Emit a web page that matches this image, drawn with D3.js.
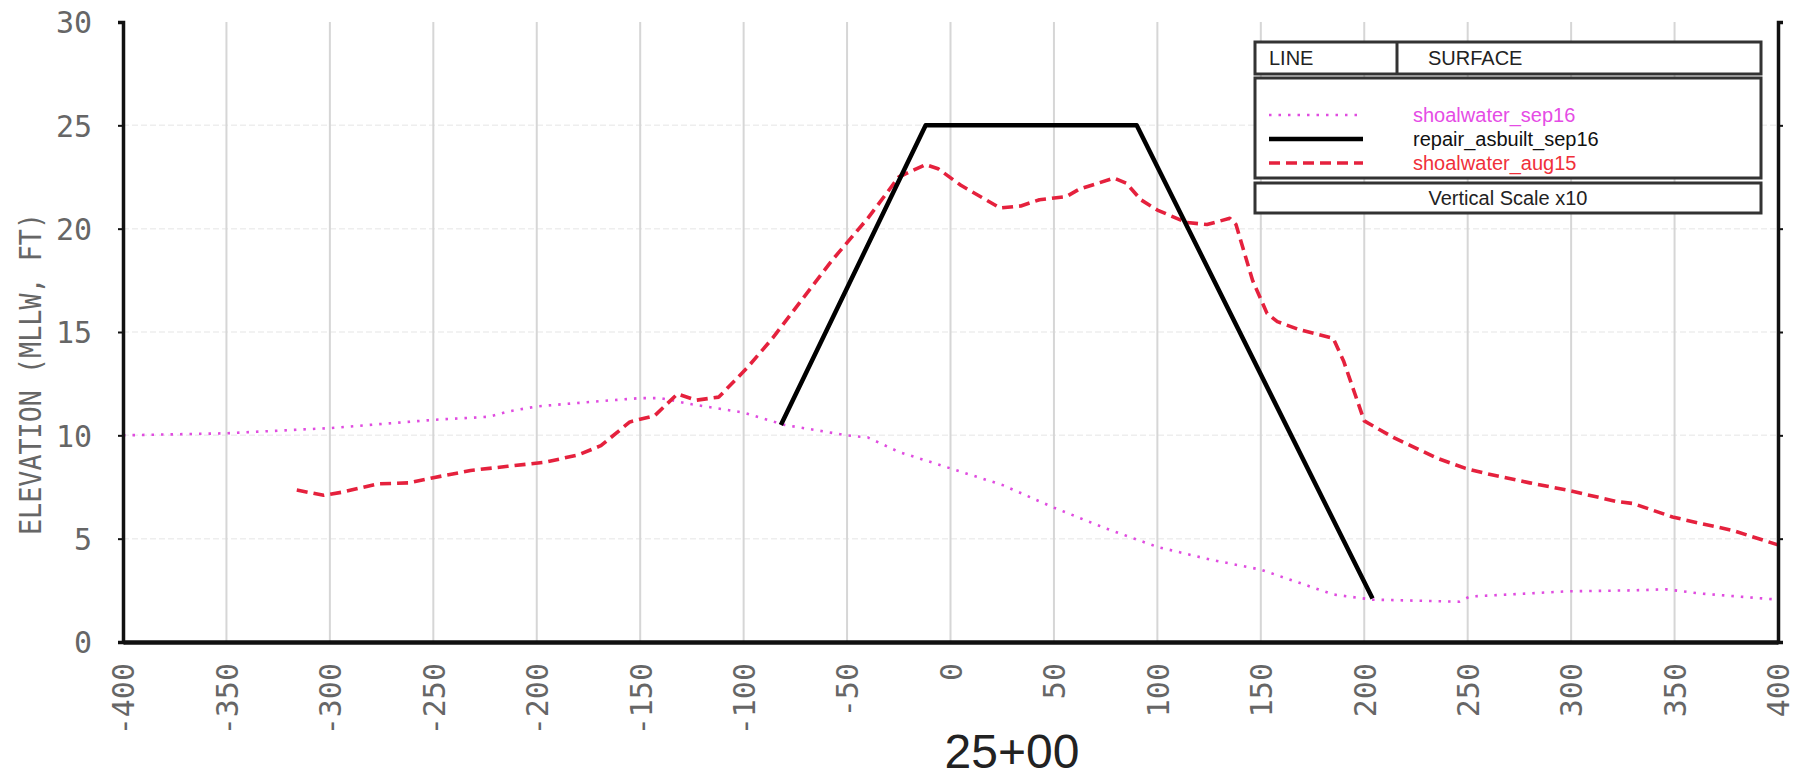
<!DOCTYPE html>
<html><head><meta charset="utf-8">
<script src="https://cdn.jsdelivr.net/npm/d3@7"></script>
<style>body{margin:0;background:#fff}</style>
</head><body>
<svg id="c" width="1804" height="779"></svg>
<script>
// ---------------- data ----------------
const xTicks = [-400,-350,-300,-250,-200,-150,-100,-50,0,50,100,150,200,250,300,350,400];
const yTicks = [0,5,10,15,20,25,30];

const sep16X = [-400,-350,-300,-250,-223,-214,-200,-170,-150,-140,-125,-100,-80,-50,-40,-25,0,25,50,75,100,125,150,169,185,204,246,251,298,330,346,362,400];
const sep16Y = [10.0,10.1,10.35,10.75,10.9,11.15,11.4,11.65,11.8,11.8,11.5,11.1,10.5,10.0,9.9,9.2,8.4,7.6,6.5,5.5,4.6,4.0,3.5,2.85,2.3,2.05,1.95,2.2,2.45,2.5,2.55,2.35,2.05];

const asbuiltX = [-82,-12,90,204];
const asbuiltY = [10.5,25,25,2.1];

const aug15X = [-316,-303,-294,-277,-262,-250,-232,-214,-196,-180,-169,-155,-143,-132,-123,-112,-98,-86,-57,-40,-25,-12,-6,5,24,34,43,56,62,79,85,92,100,114,124,135,138,146,153,158,169,185,190,200,214,235,249,259,280,298,322,330,349,362,378,400];
const aug15Y = [7.35,7.1,7.25,7.65,7.7,7.95,8.3,8.5,8.7,9.05,9.5,10.65,10.95,12.0,11.7,11.85,13.3,14.7,18.5,20.5,22.5,23.1,22.9,22.1,21.0,21.1,21.4,21.55,21.9,22.45,22.2,21.4,20.9,20.3,20.2,20.5,20.2,17.5,15.9,15.5,15.1,14.7,13.6,10.7,9.9,8.9,8.4,8.15,7.7,7.35,6.8,6.7,6.05,5.75,5.4,4.7];

const seriesNames = ["shoalwater_sep16","repair_asbuilt_sep16","shoalwater_aug15"];
const xTitle = "25+00";
const yTitle = "ELEVATION (MLLW, FT)";
const legendHeader = ["LINE","SURFACE"];
const legendNote = "Vertical Scale x10";

// ---------------- layout ----------------
const L = 123, R = 1778, T = 22, B = 642;
const svg = d3.select("#c");
const x = d3.scaleLinear().domain([-400,400]).range([L,R]);
const y = d3.scaleLinear().domain([0,30]).range([B,T]);
const fmt = d => String(d).replace("\u2212","-");
const mono = "'DejaVu Sans Mono', monospace";
const sans = "'Liberation Sans', Arial, sans-serif";

// grid
const grid = svg.append("g");
grid.selectAll("line.h").data(yTicks.filter(d=>d>0 && d<30)).enter().append("line")
  .attr("x1",L).attr("x2",R).attr("y1",d=>y(d)).attr("y2",d=>y(d))
  .attr("stroke","#eeeeee").attr("stroke-width",1.5).attr("stroke-dasharray","6,3");
grid.selectAll("line.v").data(xTicks.filter(d=>d>-400 && d<400)).enter().append("line")
  .attr("x1",d=>x(d)).attr("x2",d=>x(d)).attr("y1",T).attr("y2",B)
  .attr("stroke","#d6d6d6").attr("stroke-width",2);

// series
const mk = (xs, ys) => xs.map((v,i)=>[v, ys[i]]);
const line = d3.line().x(d=>x(d[0])).y(d=>y(d[1]));
const styles = [
  {data: mk(sep16X, sep16Y), color:"#e04ce0", w:2.6, dash:"2.5,7"},
  {data: mk(asbuiltX, asbuiltY), color:"#000000", w:4.5, dash:null},
  {data: mk(aug15X, aug15Y), color:"#e5213d", w:3.6, dash:"11,6"}
];
const order = [0,2,1];
order.forEach(i=>{
  const s = styles[i];
  svg.append("path").datum(s.data).attr("d",line).attr("fill","none")
    .attr("stroke",s.color).attr("stroke-width",s.w)
    .attr("stroke-dasharray",s.dash).attr("stroke-linejoin","round");
});

// axes
const yAxisL = svg.append("g").attr("transform",`translate(${L},0)`)
  .call(d3.axisLeft(y).tickValues(yTicks).tickFormat(fmt).tickSize(5).tickPadding(26));
const yAxisR = svg.append("g").attr("transform",`translate(${R},0)`)
  .call(d3.axisRight(y).tickValues(yTicks).tickFormat("").tickSize(5));
const xAxis = svg.append("g").attr("transform",`translate(0,${B})`)
  .call(d3.axisBottom(x).tickValues(xTicks).tickFormat(fmt).tickSize(0));
[yAxisL,yAxisR,xAxis].forEach(a=>{
  a.select(".domain").attr("stroke","#111").attr("stroke-width",3.5);
  a.selectAll(".tick line").attr("stroke","#111").attr("stroke-width",2);
});
xAxis.select(".domain").attr("stroke-width",4.5);
yAxisL.selectAll(".tick text").attr("font-family",mono).attr("font-size",30)
  .attr("fill","#666").attr("dy","0.36em");
xAxis.selectAll(".tick text").attr("font-family",mono).attr("font-size",30)
  .attr("fill","#666").attr("text-anchor","end")
  .attr("transform","rotate(-90)").attr("x",-21).attr("y",0).attr("dy","0.36em");

// titles
svg.append("text").attr("x",1012).attr("y",768).attr("text-anchor","middle")
  .attr("font-family",sans).attr("font-size",48).attr("fill","#222").text(xTitle);
svg.append("text").attr("transform","translate(30,374) rotate(-90)")
  .attr("text-anchor","middle").attr("dy","0.36em")
  .attr("font-family",mono).attr("font-size",30).attr("fill","#666")
  .attr("textLength",322).attr("lengthAdjust","spacingAndGlyphs").text(yTitle);

// legend
const lg = svg.append("g");
const LX0 = 1255, LX1 = 1761;
const boxes = [[42,74],[78,178],[183,213]];
boxes.forEach(b=>{
  lg.append("rect").attr("x",LX0).attr("y",b[0]).attr("width",LX1-LX0).attr("height",b[1]-b[0])
    .attr("fill","#fff").attr("stroke","#333").attr("stroke-width",3);
});
lg.append("line").attr("x1",1397).attr("x2",1397).attr("y1",42).attr("y2",74)
  .attr("stroke","#333").attr("stroke-width",3);
lg.append("text").attr("x",1269).attr("y",65).attr("font-family",sans).attr("font-size",20)
  .attr("fill","#222").text(legendHeader[0]);
lg.append("text").attr("x",1428).attr("y",65).attr("font-family",sans).attr("font-size",20)
  .attr("fill","#222").text(legendHeader[1]);
const rowY = [115,139,163];
const txtCol = ["#e54ce5","#111","#f0303a"];
seriesNames.forEach((n,i)=>{
  const s = styles[i];
  lg.append("line").attr("x1",1269).attr("x2",1363).attr("y1",rowY[i]).attr("y2",rowY[i])
    .attr("stroke",s.color).attr("stroke-width",s.w).attr("stroke-dasharray",s.dash);
  lg.append("text").attr("x",1413).attr("y",rowY[i]).attr("dy","0.35em")
    .attr("font-family",sans).attr("font-size",20).attr("fill",txtCol[i]).text(n);
});
lg.append("text").attr("x",(LX0+LX1)/2).attr("y",198).attr("dy","0.36em").attr("text-anchor","middle")
  .attr("font-family",sans).attr("font-size",20).attr("fill","#222").text(legendNote);
</script>
</body></html>
